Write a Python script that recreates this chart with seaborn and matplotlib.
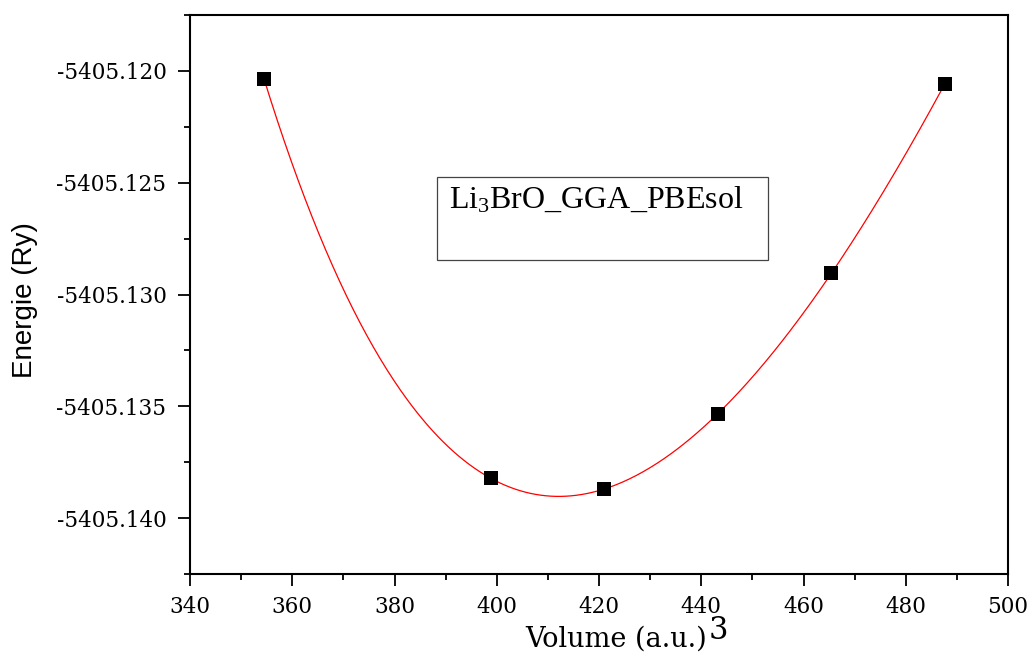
import numpy as np
import pandas as pd
import matplotlib
matplotlib.use("Agg")
import matplotlib.pyplot as plt
import matplotlib.patches as mpatches
from matplotlib.ticker import MultipleLocator, FormatStrFormatter
import seaborn as sns

# Total energy versus cell volume for Li3BrO (GGA-PBEsol)
volume = [354.47, 398.88, 420.98, 443.28, 465.38, 487.68]
energy = [-5405.12036, -5405.13821, -5405.13871, -5405.13536, -5405.12902, -5405.12058]
x_ticks = [340, 360, 380, 400, 420, 440, 460, 480, 500]
y_ticks = [-5405.140, -5405.135, -5405.130, -5405.125, -5405.120]
label_text = r"Li$_\mathregular{3}$BrO_GGA_PBEsol"

sns.set_theme(style="ticks")
plt.rcParams["font.family"] = ["DejaVu Serif"]
plt.rcParams["axes.unicode_minus"] = False
plt.rcParams["mathtext.fontset"] = "custom"
plt.rcParams["mathtext.rm"] = "Liberation Serif"
plt.rcParams["mathtext.it"] = "Liberation Serif:italic"
plt.rcParams["mathtext.bf"] = "Liberation Serif:bold"

points = pd.DataFrame({"V": volume, "E": energy})

# Third-order Birch-Murnaghan fit: E is cubic in V^(-2/3)
v = np.asarray(volume)
e = np.asarray(energy)
e0 = e.mean()
coef = np.polyfit(v ** (-2.0 / 3.0), e - e0, 3)
v_fit = np.linspace(v.min(), v.max(), 400)
e_fit = np.polyval(coef, v_fit ** (-2.0 / 3.0)) + e0
curve = pd.DataFrame({"V": v_fit, "E": e_fit})

fig = plt.figure(figsize=(10.34, 6.57), dpi=100)
ax = fig.add_axes([0.1838, 0.1263, 0.7911, 0.8509])

sns.lineplot(data=curve, x="V", y="E", ax=ax, color="#ff0000", linewidth=0.9,
             sort=False, estimator=None, zorder=2)
sns.scatterplot(data=points, x="V", y="E", ax=ax, marker="s", s=92,
                color="black", edgecolor="black", linewidth=0, zorder=3)

ax.set_xlim(340, 500)
ax.set_ylim(-5405.1425, -5405.1175)
ax.set_xticks(x_ticks)
ax.set_yticks(y_ticks)
ax.xaxis.set_minor_locator(MultipleLocator(10))
ax.yaxis.set_minor_locator(MultipleLocator(0.0025))
ax.yaxis.set_major_formatter(FormatStrFormatter("%.3f"))
ax.xaxis.set_major_formatter(FormatStrFormatter("%d"))

for side in ["left", "right", "top", "bottom"]:
    ax.spines[side].set_visible(True)
    ax.spines[side].set_linewidth(1.5)
    ax.spines[side].set_color("black")

ax.tick_params(axis="both", which="major", direction="out", length=8.5, width=1.3,
               color="black", labelsize=15.5, labelcolor="black", pad=7,
               top=False, right=False)
ax.tick_params(axis="y", which="major", pad=8.5)
ax.tick_params(axis="both", which="minor", direction="out", length=4.5, width=1.3,
               color="black", top=False, right=False)

ax.set_ylabel("Energie (Ry)", fontsize=20, family="Liberation Sans", color="black")
ax.yaxis.set_label_coords(-0.186, 0.49)
ax.set_xlabel("Volume (a.u.)", fontsize=19.5, family="DejaVu Serif", color="black")
ax.xaxis.set_label_coords(0.521, -0.093)
ax.annotate("3", xy=(1, 1), xycoords=ax.xaxis.label, xytext=(2, -13),
            textcoords="offset pixels", fontsize=22, family="DejaVu Serif",
            ha="left", va="baseline", color="black")

# Label box
box = mpatches.Rectangle((0.302, 0.5617), 0.4046, 0.1483, transform=ax.transAxes,
                         fill=False, edgecolor="#444444", linewidth=0.9, zorder=4)
ax.add_patch(box)
ax.text(0.3166, 0.6565, label_text, transform=ax.transAxes, fontsize=23,
        family="Liberation Serif", ha="left", va="baseline", color="black", zorder=5)

ax.grid(False)
fig.savefig("out.png", dpi=100, facecolor="white")
